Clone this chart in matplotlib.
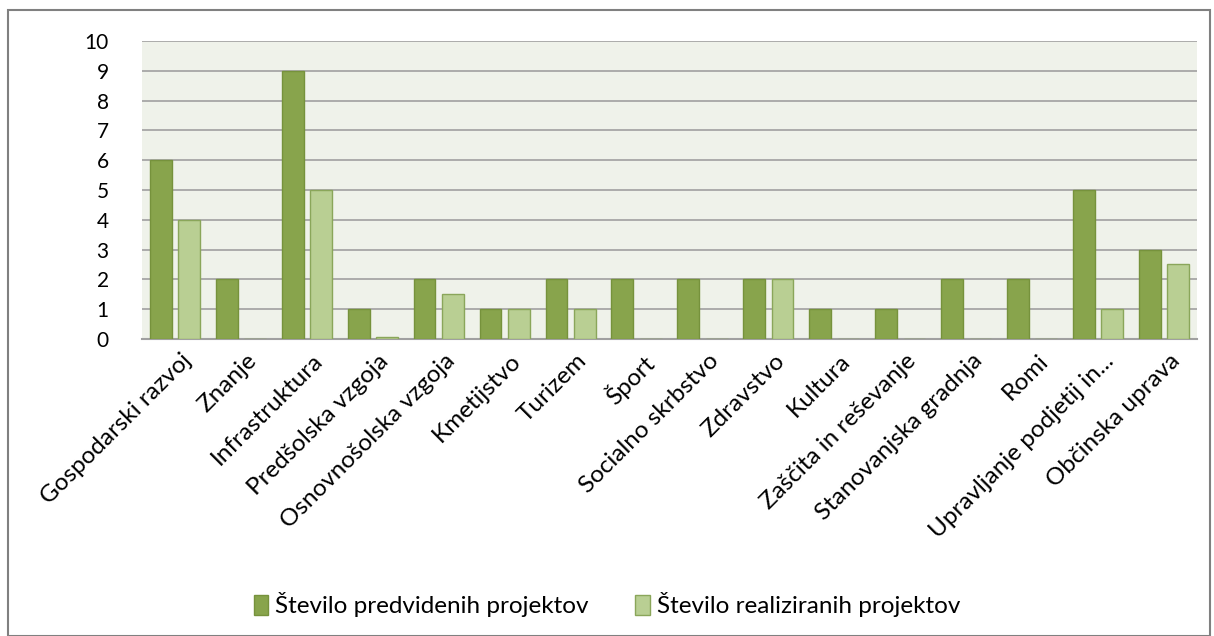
import numpy as np
import matplotlib.pyplot as plt
from matplotlib.patches import Rectangle

categories = ['Gospodarski razvoj', 'Znanje', 'Infrastruktura', 'Predšolska vzgoja',
              'Osnovnošolska vzgoja', 'Kmetijstvo', 'Turizem', 'Šport',
              'Socialno skrbstvo', 'Zdravstvo', 'Kultura', 'Zaščita in reševanje',
              'Stanovanjska gradnja', 'Romi', 'Upravljanje podjetij in...', 'Občinska uprava']
predvideni = [6, 2, 9, 1, 2, 1, 2, 2, 2, 2, 1, 1, 2, 2, 5, 3]
realizirani = [4, 0, 5, 0.07, 1.5, 1, 1, 0, 0, 2, 0, 0, 0, 0, 1, 2.5]

plt.rcParams['font.family'] = ['Lato', 'DejaVu Sans']

fig = plt.figure(figsize=(12.14, 6.36), dpi=100)
ax = fig.add_axes([0.117, 0.467, 0.869, 0.4685])

x = np.arange(len(categories))
w = 0.33
ax.bar(x - 0.215, predvideni, w, color='#88A44C', edgecolor='#76923C', linewidth=1,
       label='Število predvidenih projektov', zorder=3)
ax.bar(x + 0.215, realizirani, w, color='#B9CF93', edgecolor='#8AA65A', linewidth=1,
       label='Število realiziranih projektov', zorder=3)

ax.set_xlim(-0.5, len(categories) - 0.5)
ax.set_ylim(0, 10)
ax.set_yticks(range(0, 11))
ax.set_facecolor('#EFF2EA')
ax.yaxis.grid(True, color='#A0A0A0', linewidth=1.2, zorder=0)
ax.set_axisbelow(True)
for s in ['left', 'right', 'top']:
    ax.spines[s].set_visible(False)
ax.spines['bottom'].set_color('#A0A0A0')
ax.spines['bottom'].set_linewidth(1.5)
ax.tick_params(axis='y', length=0, pad=24, labelsize=15)
ax.tick_params(axis='x', length=0, pad=8, labelsize=17.5)
ax.set_xticks(x + 0.08)
ax.set_xticklabels(categories, rotation=45, ha='right', va='top', rotation_mode='anchor')

leg = fig.legend(loc='lower center', bbox_to_anchor=(0.5, -0.005), ncol=2, frameon=False,
                 fontsize=17.5, handlelength=0.6, handleheight=0.9, handletextpad=0.3,
                 columnspacing=1.9)

fig.patches.append(Rectangle((8 / 1214, 0), 1202 / 1214, 626 / 636, transform=fig.transFigure,
                             fill=False, edgecolor='#808080', linewidth=1.5))

fig.savefig('out.png', dpi=100)
